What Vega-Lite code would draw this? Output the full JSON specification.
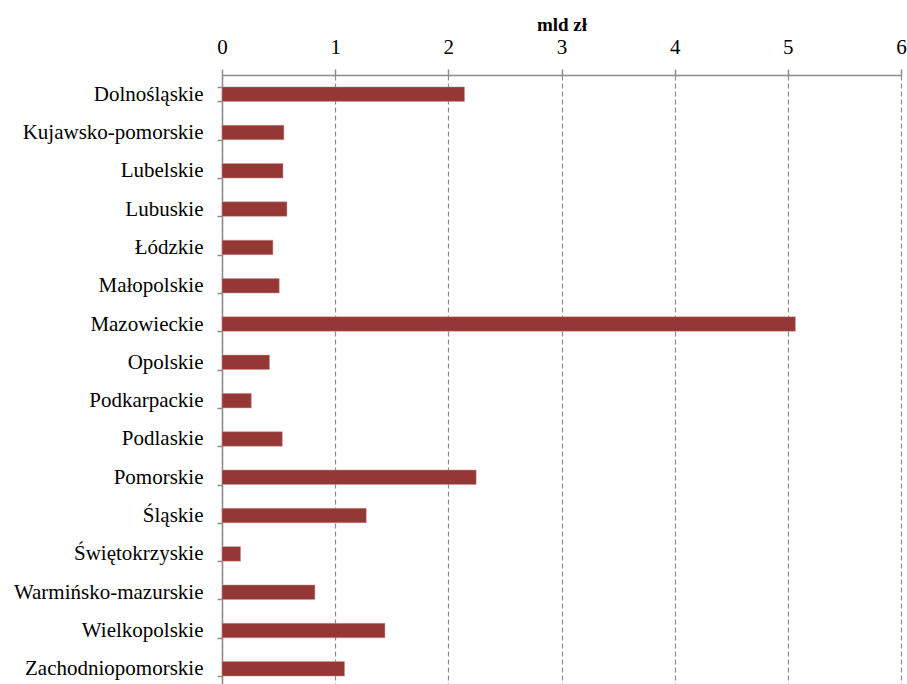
{
  "$schema": "https://vega.github.io/schema/vega-lite/v6.json",
  "autosize": {"type": "none"},
  "padding": {"left": 222, "top": 75, "right": 6, "bottom": 0},
  "width": 679,
  "height": 609,
  "background": "white",
  "data": {
    "values": [
      {"region": "Dolnośląskie", "value": 2.143},
      {"region": "Kujawsko-pomorskie", "value": 0.547},
      {"region": "Lubelskie", "value": 0.539},
      {"region": "Lubuskie", "value": 0.574},
      {"region": "Łódzkie", "value": 0.45},
      {"region": "Małopolskie", "value": 0.506},
      {"region": "Mazowieckie", "value": 5.067},
      {"region": "Opolskie", "value": 0.42},
      {"region": "Podkarpackie", "value": 0.259},
      {"region": "Podlaskie", "value": 0.533},
      {"region": "Pomorskie", "value": 2.246},
      {"region": "Śląskie", "value": 1.275},
      {"region": "Świętokrzyskie", "value": 0.164},
      {"region": "Warmińsko-mazurskie", "value": 0.821},
      {"region": "Wielkopolskie", "value": 1.44},
      {"region": "Zachodniopomorskie", "value": 1.083}
    ]
  },
  "mark": {"type": "bar", "color": "#953735", "stroke": "#c99a99", "strokeWidth": 0.5},
  "encoding": {
    "y": {
      "field": "region",
      "type": "nominal",
      "sort": null,
      "scale": {"range": [0, 613], "paddingInner": 0.62, "paddingOuter": 0.31},
      "axis": {
        "title": null,
        "tickBand": "extent",
        "tickSize": 5,
        "tickColor": "#8c8c8c",
        "tickWidth": 1.5,
        "domainColor": "#8c8c8c",
        "domainWidth": 1.5,
        "labelFont": "Liberation Serif",
        "labelFontSize": 21,
        "labelColor": "black",
        "labelPadding": 14,
        "labelLimit": 300
      }
    },
    "x": {
      "field": "value",
      "type": "quantitative",
      "scale": {"domain": [0, 6], "nice": false},
      "axis": {
        "orient": "top",
        "title": "mld zł",
        "titleFont": "Liberation Serif",
        "titleFontSize": 19,
        "titleFontWeight": "bold",
        "titleColor": "black",
        "titlePadding": 2,
        "values": [0, 1, 2, 3, 4, 5, 6],
        "format": "d",
        "labelFont": "Liberation Serif",
        "labelFontSize": 21,
        "labelColor": "black",
        "labelPadding": 12,
        "labelFlush": false,
        "tickSize": 6,
        "tickColor": "#8c8c8c",
        "tickWidth": 1.5,
        "domainColor": "#8c8c8c",
        "domainWidth": 1.5,
        "grid": true,
        "gridColor": "#8c8c8c",
        "gridWidth": 1.2,
        "gridDash": [5, 3]
      }
    }
  },
  "config": {"view": {"stroke": null}}
}
